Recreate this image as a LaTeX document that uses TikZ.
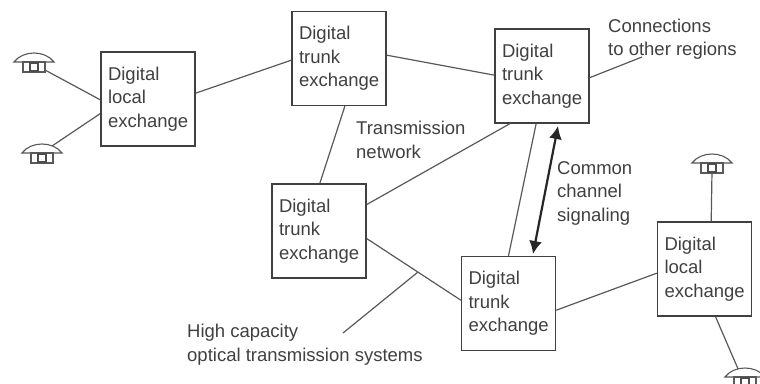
\documentclass[tikz,border=0pt]{standalone}
\usepackage{fontspec}
\setmainfont{Liberation Sans}
\usetikzlibrary{arrows.meta}

\tikzset{
    exchange/.style = {draw=black!75, line width=1.4pt, minimum width=94pt, minimum height=94pt, text width=80pt, inner sep=7pt, align=left, text=black!75, font=\fontsize{18.5}{23.5}\selectfont},
    caption/.style = {anchor=north west, inner sep=0pt, align=left, text=black!75, font=\fontsize{18.5}{23.5}\selectfont},
    link/.style = {draw=black!65, line width=1.2pt},
    phone/.pic = {
        \draw [black!65, line width=1.1pt, fill=white] (-20,-8) .. controls (-11,-20) and (11,-20) .. (20,-8) -- cycle;
        \draw [black!65, line width=1.1pt, fill=white] (-11,-8) rectangle (11,2);
        \draw [black!70, line width=1.1pt] (-4,-7) rectangle (4,1);
    }
}

\begin{document}
\begin{tikzpicture}[x=1pt, y=-1pt]
    \useasboundingbox [fill=white] (0,0) rectangle (760,383);

    \node [exchange] (localleft) at (148,99) {Digital\\local\\exchange};
    \node [exchange] (trunktop) at (339,58.5) {Digital\\trunk\\exchange};
    \node [exchange] (trunkright) at (542,76) {Digital\\trunk\\exchange};
    \node [exchange] (trunkmid) at (319,231) {Digital\\trunk\\exchange};
    \node [exchange] (trunkbottom) at (508.5,303.5) {Digital\\trunk\\exchange};
    \node [exchange] (localright) at (704.5,269) {Digital\\local\\exchange};

    \node [caption] (transmission) at (356,121) {Transmission\\network};
    \node [caption] (common) at (557,161) {Common\\channel\\signaling};
    \node [caption] (connections) at (608,18.5) {Connections\\to other regions};
    \node [caption] (capacity) at (187,324) {High capacity\\optical transmission systems};

    \coordinate (phoneA) at (34,70);
    \coordinate (phoneB) at (42,161);
    \coordinate (phoneC) at (712,171);
    \coordinate (phoneD) at (745,385);
    \coordinate (wireA) at (45,70);
    \coordinate (wireB) at (52,146);
    \coordinate (outgoing) at (642,57);
    \coordinate (pointerfoot) at (343,333);
    \coordinate (pointerhead) at (418,272);
    \coordinate (signaltop) at (558,126);
    \coordinate (signalbottom) at (533,254);

    \draw [link] (localleft.181) -- (wireA);
    \draw [link] (localleft.197) -- (wireB);
    \draw [link] (localleft.7) -- (trunktop.182);
    \draw [link] (trunktop.4) -- (trunkright.179);
    \draw [link] (trunktop.277) -- (trunkmid.89);
    \draw [link] (trunkright.236) -- (trunkmid.29);
    \draw [link] (trunkright.263) -- (trunkbottom.90);
    \draw [link] (trunkright.358) -- (outgoing);
    \draw [link] (trunkmid.351.5) -- (trunkbottom.176);
    \draw [link] (trunkbottom.352) -- (localright.185);
    \draw [link] (localright.82) -- (phoneC);
    \draw [link] (localright.283) -- (phoneD);
    \draw [link] (pointerfoot) -- (pointerhead);

    \draw [{Latex[length=13pt,width=13pt]}-{Latex[length=13pt,width=13pt]}, black!85, line width=2.2pt] (signaltop) -- (signalbottom);

    \foreach \p in {phoneA, phoneB, phoneC, phoneD}
        \pic at (\p) {phone};
\end{tikzpicture}
\end{document}
